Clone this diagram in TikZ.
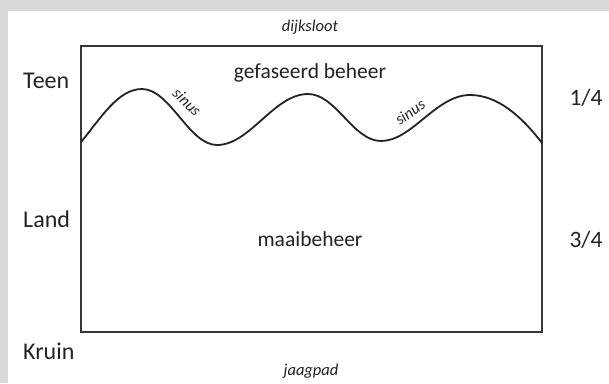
\documentclass[tikz,border=0pt]{standalone}
\usepackage{fontspec}
\setmainfont{Carlito}
\definecolor{bggray}{RGB}{217,217,217}
\definecolor{inkc}{RGB}{35,35,35}
\definecolor{framec}{RGB}{55,55,55}
\tikzset{
  sidelabel/.style={inner sep=0pt, anchor=west, text=inkc, font=\fontsize{24}{28}\selectfont},
  fraclabel/.style={inner sep=0pt, text=inkc, font=\fontsize{23.5}{28}\selectfont},
  zonelabel/.style={inner sep=0pt, text=inkc, font=\fontsize{21.5}{26}\selectfont},
  edgelabel/.style={inner sep=0pt, text=inkc, font=\itshape\fontsize{16.5}{20}\selectfont},
  wavelabel/.style={inner sep=0pt, text=inkc, font=\itshape\fontsize{16}{19}\selectfont},
  frame/.style={draw=framec, line width=2pt},
  wave/.style={draw=inkc, line width=1.8pt}
}
\begin{document}
\begin{tikzpicture}[x=1pt,y=-1pt]
\useasboundingbox (0,0) rectangle (609,383);
\fill[bggray] (0,0) rectangle (609,383);
\fill[white] (8,11) rectangle (609,383);
% frame
\draw[frame] (81,46) rectangle (542,332);
% wave
\coordinate (p0) at (81,142);
\coordinate (p1) at (142,89);
\coordinate (p2) at (217,145);
\coordinate (p3) at (308,94);
\coordinate (p4) at (381,141);
\coordinate (p5) at (470,95);
\coordinate (p6) at (542,143);
\draw[wave] (p0) .. controls (101,118) and (118,89) .. (p1)
  .. controls (170,89) and (189,145) .. (p2)
  .. controls (250,145) and (274,94) .. (p3)
  .. controls (336,94) and (353,141) .. (p4)
  .. controls (412,141) and (436,95) .. (p5)
  .. controls (498,95) and (522,117) .. (p6);
% labels
\node[edgelabel] (dijk) at (310,27) {dijksloot};
\node[edgelabel] (jaag) at (311,371.5) {jaagpad};
\node[zonelabel] (gef) at (310,72.5) {gefaseerd beheer};
\node[zonelabel] (maai) at (310,239) {maaibeheer};
\node[sidelabel] (teen) at (23,80.5) {Teen};
\node[sidelabel] (land) at (23,219) {Land};
\node[sidelabel] (kruin) at (23,351) {Kruin};
\node[fraclabel] (q1) at (586,97.5) {1/4};
\node[fraclabel] (q3) at (586,240) {3/4};
\node[wavelabel, rotate=-45] (s1) at (187,102) {sinus};
\node[wavelabel, rotate=35] (s2) at (410,112) {sinus};
\end{tikzpicture}
\end{document}
